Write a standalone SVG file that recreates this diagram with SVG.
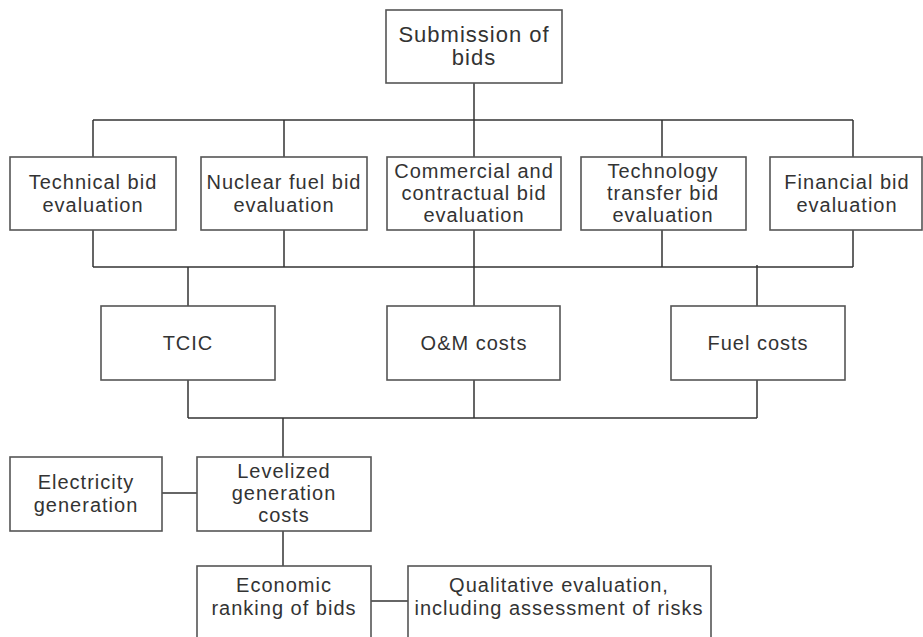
<svg xmlns="http://www.w3.org/2000/svg" width="923" height="637" viewBox="0 0 923 637">
<style>
  .box { fill: #ffffff; stroke: #555555; stroke-width: 1.6; }
  .lbl { font-family: "Liberation Sans", Arial, Helvetica, sans-serif; font-size: 20px; letter-spacing: 1px; fill: #333333; text-anchor: middle; }
  .big { font-size: 22px; }
  .conn { fill: none; stroke: #333333; stroke-width: 1.5; }
</style>
<rect width="923" height="637" fill="#ffffff"/>
<g id="connectors" class="conn">
  <path d="M474,83 V120"/>
  <path d="M93,120 H853"/>
  <path d="M93,120 V157 M284,120 V157 M474,120 V157 M662,120 V157 M853,120 V157"/>
  <path d="M93,230 V267 M284,230 V267 M474,230 V267 M662,230 V267 M853,230 V267"/>
  <path d="M93,267 H853"/>
  <path d="M188,267 V306 M474,267 V306 M757,265 V306"/>
  <path d="M188,380 V418 M474,380 V418 M757,380 V418"/>
  <path d="M188,418 H757"/>
  <path d="M283,418 V457"/>
  <path d="M162,493 H197"/>
  <path d="M283,531 V566"/>
  <path d="M371,601 H408"/>
</g>
<g id="submission">
  <rect class="box" x="386" y="10" width="176" height="73"/>
  <text class="lbl big" x="474" y="42">Submission of</text>
  <text class="lbl big" x="474" y="65">bids</text>
</g>
<g id="technical">
  <rect class="box" x="10" y="157" width="166" height="73"/>
  <text class="lbl" x="93" y="189">Technical bid</text>
  <text class="lbl" x="93" y="212">evaluation</text>
</g>
<g id="nuclear">
  <rect class="box" x="201" y="157" width="166" height="73"/>
  <text class="lbl" x="284" y="189">Nuclear fuel bid</text>
  <text class="lbl" x="284" y="212">evaluation</text>
</g>
<g id="commercial">
  <rect class="box" x="387" y="157" width="174" height="73"/>
  <text class="lbl" x="474" y="178">Commercial and</text>
  <text class="lbl" x="474" y="200">contractual bid</text>
  <text class="lbl" x="474" y="222">evaluation</text>
</g>
<g id="technology">
  <rect class="box" x="581" y="157" width="165" height="73"/>
  <text class="lbl" x="663" y="178">Technology</text>
  <text class="lbl" x="663" y="200">transfer bid</text>
  <text class="lbl" x="663" y="222">evaluation</text>
</g>
<g id="financial">
  <rect class="box" x="770" y="157" width="152" height="73"/>
  <text class="lbl" x="847" y="189">Financial bid</text>
  <text class="lbl" x="847" y="212">evaluation</text>
</g>
<g id="tcic">
  <rect class="box" x="101" y="306" width="174" height="74"/>
  <text class="lbl" x="188" y="350">TCIC</text>
</g>
<g id="om">
  <rect class="box" x="387" y="306" width="173" height="74"/>
  <text class="lbl" x="474" y="350">O&amp;M costs</text>
</g>
<g id="fuel">
  <rect class="box" x="671" y="306" width="174" height="74"/>
  <text class="lbl" x="758" y="350">Fuel costs</text>
</g>
<g id="electricity">
  <rect class="box" x="10" y="457" width="152" height="74"/>
  <text class="lbl" x="86" y="489">Electricity</text>
  <text class="lbl" x="86" y="512">generation</text>
</g>
<g id="levelized">
  <rect class="box" x="197" y="457" width="174" height="74"/>
  <text class="lbl" x="284" y="478">Levelized</text>
  <text class="lbl" x="284" y="500">generation</text>
  <text class="lbl" x="284" y="522">costs</text>
</g>
<g id="economic">
  <rect class="box" x="197" y="566" width="174" height="72"/>
  <text class="lbl" x="284" y="592">Economic</text>
  <text class="lbl" x="284" y="615">ranking of bids</text>
</g>
<g id="qualitative">
  <rect class="box" x="408" y="566" width="303" height="72"/>
  <text class="lbl" x="559" y="592">Qualitative evaluation,</text>
  <text class="lbl" x="559" y="615">including assessment of risks</text>
</g>
</svg>
